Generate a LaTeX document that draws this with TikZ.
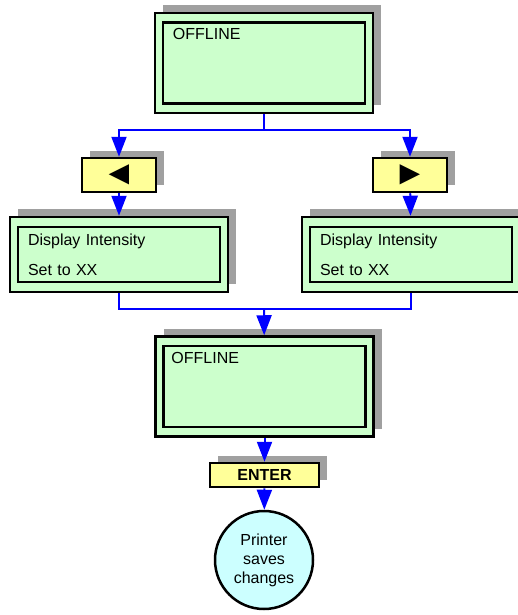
\documentclass[tikz,border=0pt]{standalone}
\usepackage{fontspec}
\setmainfont{Liberation Sans}
\usetikzlibrary{arrows.meta,shadows}
\definecolor{panelgreen}{HTML}{CCFFCC}
\definecolor{keyyellow}{HTML}{FFFF99}
\definecolor{endcyan}{HTML}{CCFFFF}
\definecolor{shadowgray}{HTML}{A0A0A0}
\tikzset{
  panel/.style={draw,line width=2.5pt,fill=panelgreen,minimum width=218pt,
    general shadow={fill=shadowgray,shadow xshift=8pt,shadow yshift=8pt}},
  screen/.style={draw,line width=2.5pt,minimum width=202pt,text width=182pt,
    inner xsep=10pt,align=left,font={\fontsize{16}{30}\selectfont}},
  keybox/.style={draw,line width=2.5pt,fill=keyyellow,minimum width=74pt,minimum height=34pt,
    general shadow={fill=shadowgray,shadow xshift=8pt,shadow yshift=7pt}},
  flow/.style={blue,line width=2pt}
}
\begin{document}
\begin{tikzpicture}[x=1pt,y=-1pt,>={Triangle[length=20pt,width=15pt]},
  font={\fontsize{16}{19}\selectfont}]
\useasboundingbox (0,0) rectangle (518,615);
% top display
\node[panel,minimum height=100pt] (off1) at (264,63) {};
\node[screen,minimum height=81pt,
  label={[anchor=north west,inner sep=0pt,xshift=11pt,yshift=-7pt]north west:OFFLINE}] (off1in) at (264,63) {};
% keys
\node[keybox,inner sep=0pt] (left) at (119,175) {\fontsize{34}{34}\selectfont ◄};
\node[keybox,inner sep=0pt] (right) at (410,175) {\fontsize{34}{34}\selectfont ►};
% intensity displays
\node[panel,minimum height=75pt] (dispL) at (119,254.5) {};
\node[screen,minimum height=55pt] (dispLin) at (119,254.5) {Display Intensity\\Set to XX};
\node[panel,minimum height=75pt] (dispR) at (411,254.5) {};
\node[screen,minimum height=55pt] (dispRin) at (411,254.5) {Display Intensity\\Set to XX};
% second display
\node[panel,minimum height=100pt] (off2) at (264.5,386.5) {};
\node[screen,minimum height=81pt,
  label={[anchor=north west,inner sep=0pt,xshift=9pt,yshift=-7pt]north west:OFFLINE}] (off2in) at (264.5,386.5) {};
\node[keybox,minimum width=109pt,minimum height=24pt,font={\fontsize{16}{19}\bfseries}] (enter) at (264.5,475) {ENTER};
\node[circle,draw,line width=2.5pt,fill=endcyan,minimum size=98pt,align=center,inner sep=0pt] (saves) at (264,560) {Printer\\saves\\changes};
\coordinate (split) at (264,130);
\coordinate (merge) at (264,309);
\draw[flow] (off1) -- (split);
\draw[flow,->] (split) -| (left);
\draw[flow,->] (split) -| (right);
\draw[flow,->] (left) -- (dispL);
\draw[flow,->] (right) -- (dispR);
\draw[flow] (dispL) |- (merge);
\draw[flow] (dispR) |- (merge);
\draw[flow,->] (merge) -- (off2);
\draw[flow,->] (off2) -- (enter);
\draw[flow,->] (enter) -- (saves);
\end{tikzpicture}
\end{document}
